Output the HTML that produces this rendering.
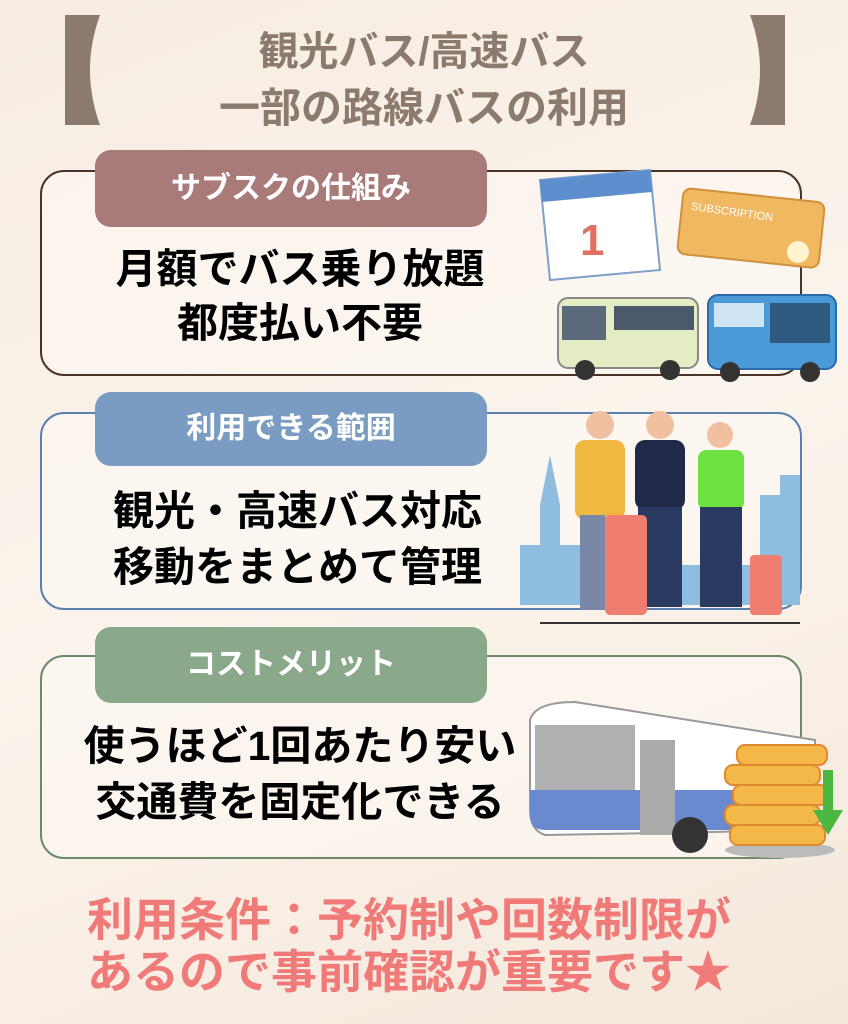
<!DOCTYPE html>
<html><head><meta charset="utf-8"><style>
body{margin:0;width:848px;height:1024px;overflow:hidden;background:linear-gradient(160deg,#f6ece2 0%,#fbf4ec 50%,#f5e8dc 100%);font-family:"Liberation Sans","Noto Sans CJK JP",sans-serif;position:relative}
.a{position:absolute;white-space:nowrap}
.c{position:absolute;left:0;text-align:center;white-space:nowrap;font-weight:bold}
.box{position:absolute;left:40px;width:758px;border-radius:24px;border:2.5px solid;background:rgba(253,249,244,0.6)}
.lab{position:absolute;left:95px;width:392px;border-radius:16px;color:#fff;font-size:30px;font-weight:bold;text-align:center}
</style></head><body>
<!-- brackets -->
<svg class="a" style="left:0;top:0" width="848" height="140">
<path d="M65 15 H100 Q80 70 100 125 H65 Z" fill="#8b7b6e"/>
<path d="M785 15 H750 Q770 70 750 125 H785 Z" fill="#8b7b6e"/>
</svg>
<div class="c" style="top:28px;width:848px;font-size:40px;color:#8b7b6e;line-height:48px">観光バス/高速バス</div>
<div class="c" style="top:84px;width:848px;font-size:41px;color:#8b7b6e;line-height:48px">一部の路線バスの利用</div>

<div class="box" style="top:170px;height:202px;border-color:#4a3428"></div>
<div class="lab" style="top:150px;height:77px;line-height:77px;background:#a87a78">サブスクの仕組み</div>
<div class="c" style="left:60px;width:480px;top:244px;font-size:41px;line-height:50px">月額でバス乗り放題</div>
<div class="c" style="left:60px;width:480px;top:298px;font-size:41px;line-height:50px">都度払い不要</div>

<!-- calendar & ticket -->
<svg class="a" style="left:530px;top:160px" width="310" height="230">
<path d="M10 20 L120 10 L130 110 L20 120 Z" fill="#fff" stroke="#7fa0c8" stroke-width="2"/>
<path d="M10 20 L120 10 L122 32 L12 42 Z" fill="#5d8fcf"/>
<text x="50" y="95" font-size="44" font-weight="bold" fill="#e07060" font-family="Liberation Sans">1</text>
<rect x="150" y="35" width="142" height="66" rx="8" fill="#f0b860" stroke="#d09040" stroke-width="2" transform="rotate(6 220 68)"/>
<text x="160" y="58" font-size="11" fill="#fff" font-family="Liberation Sans" transform="rotate(8 220 60)">SUBSCRIPTION</text>
<circle cx="268" cy="92" r="11" fill="#fff3d0"/>
<!-- buses -->
<rect x="28" y="138" width="140" height="70" rx="10" fill="#e4ecc4" stroke="#888" stroke-width="2"/>
<rect x="32" y="146" width="44" height="34" fill="#5a6a7a"/>
<rect x="84" y="146" width="80" height="24" fill="#4a5a6a"/>
<circle cx="55" cy="210" r="10" fill="#333"/><circle cx="140" cy="210" r="10" fill="#333"/>
<rect x="178" y="135" width="128" height="74" rx="10" fill="#4a9ad8" stroke="#2a6aa8" stroke-width="2"/>
<rect x="240" y="143" width="60" height="40" fill="#2e5a80"/>
<rect x="184" y="143" width="50" height="24" fill="#cfe4f4"/>
<circle cx="200" cy="212" r="10" fill="#333"/><circle cx="280" cy="212" r="10" fill="#333"/>
</svg>

<div class="box" style="top:412px;height:194px;border-color:#5a80b0"></div>
<div class="lab" style="top:392px;height:74px;line-height:74px;background:#7a9cc2">利用できる範囲</div>
<div class="c" style="left:55px;width:485px;top:486px;font-size:41px;line-height:50px">観光・高速バス対応</div>
<div class="c" style="left:55px;width:485px;top:542px;font-size:41px;line-height:50px">移動をまとめて管理</div>

<svg class="a" style="left:520px;top:395px" width="300" height="235">
<path d="M0 210 V150 H20 V110 L30 60 L40 110 V150 H60 V120 H80 V210 Z M240 210 V100 H260 V80 H280 V210 Z" fill="#8ebde0"/>
<rect x="0" y="170" width="280" height="40" fill="#8ebde0"/>
<!-- people -->
<circle cx="80" cy="30" r="14" fill="#f0c0a0"/><rect x="55" y="45" width="50" height="80" rx="10" fill="#f0b840"/>
<rect x="60" y="120" width="25" height="95" fill="#7a88a8"/>
<circle cx="140" cy="30" r="14" fill="#f0c0a0"/><rect x="115" y="45" width="50" height="70" rx="10" fill="#202a48"/>
<rect x="118" y="112" width="44" height="100" fill="#2a3a60"/>
<circle cx="200" cy="40" r="13" fill="#f0c0a0"/><rect x="178" y="55" width="46" height="60" rx="8" fill="#6ee040"/>
<rect x="180" y="112" width="42" height="100" fill="#2a3a60"/>
<rect x="85" y="120" width="42" height="100" rx="5" fill="#f07e70"/>
<rect x="230" y="160" width="32" height="60" rx="4" fill="#f07e70"/>
<line x1="20" y1="228" x2="280" y2="228" stroke="#333" stroke-width="2"/>
</svg>

<div class="box" style="top:655px;height:200px;border-color:#6a8a6a"></div>
<div class="lab" style="top:627px;height:76px;line-height:76px;background:#8aa88a">コストメリット</div>
<div class="c" style="left:50px;width:500px;top:721px;font-size:41px;line-height:50px">使うほど1回あたり安い</div>
<div class="c" style="left:50px;width:500px;top:777px;font-size:41px;line-height:50px">交通費を固定化できる</div>

<svg class="a" style="left:515px;top:690px" width="330" height="175">
<path d="M15 30 Q20 12 60 12 L300 50 V140 L30 145 Q15 140 15 120 Z" fill="#fff" stroke="#999" stroke-width="2"/>
<rect x="20" y="35" width="100" height="65" fill="#b0b0b0"/>
<path d="M15 100 H300 V140 H30 Q15 140 15 125 Z" fill="#6a8ad0"/>
<rect x="125" y="50" width="35" height="95" fill="#aaa"/>
<circle cx="175" cy="145" r="18" fill="#333"/>
<ellipse cx="265" cy="160" rx="55" ry="8" fill="#bbb"/>
<g fill="#f4b848" stroke="#e08a30" stroke-width="2">
<rect x="215" y="135" width="95" height="20" rx="8"/><rect x="210" y="115" width="95" height="20" rx="8"/>
<rect x="218" y="95" width="95" height="20" rx="8"/><rect x="210" y="75" width="95" height="20" rx="8"/>
<rect x="222" y="55" width="90" height="20" rx="8"/></g>
<path d="M308 80 H318 V120 H328 L313 145 L298 120 H308 Z" fill="#4ab840"/>
</svg>

<div class="c" style="left:0;width:848px;top:893px;font-size:46px;line-height:54px;color:#f07a78;text-align:center;padding-right:30px;box-sizing:border-box">利用条件：予約制や回数制限が</div>
<div class="c" style="left:0;width:848px;top:945px;font-size:46px;line-height:54px;color:#f07a78;text-align:center;padding-right:30px;box-sizing:border-box">あるので事前確認が重要です★</div>
</body></html>
